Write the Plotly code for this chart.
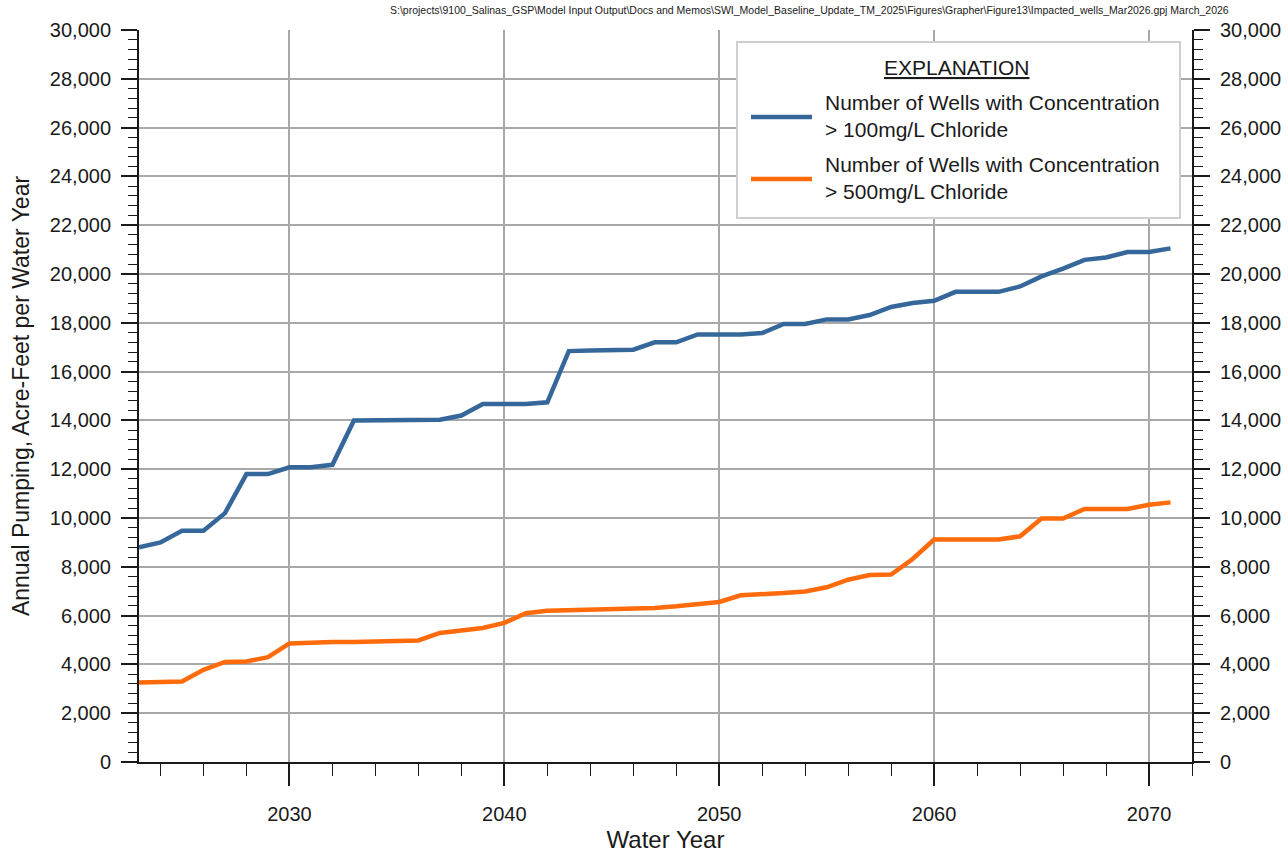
import plotly.graph_objects as go

# Water years simulated
years = [2023, 2024, 2025, 2026, 2027, 2028, 2029, 2030, 2031, 2032,
         2033, 2034, 2035, 2036, 2037, 2038, 2039, 2040, 2041, 2042,
         2043, 2044, 2045, 2046, 2047, 2048, 2049, 2050, 2051, 2052,
         2053, 2054, 2055, 2056, 2057, 2058, 2059, 2060, 2061, 2062,
         2063, 2064, 2065, 2066, 2067, 2068, 2069, 2070, 2071]

# Wells with concentration > 100 mg/L chloride
wells_100 = [8800, 9000, 9480, 9480, 10200, 11800, 11800, 12080, 12080, 12180,
             14000, 14000, 14000, 14000, 14030, 14200, 14670, 14670, 14670, 14740,
             16840, 16860, 16900, 16900, 17200, 17200, 17520, 17520, 17520, 17580,
             17950, 17950, 18140, 18140, 18320, 18650, 18810, 18900, 19270, 19270,
             19270, 19490, 19900, 20220, 20580, 20680, 20900, 20900, 21050]

# Wells with concentration > 500 mg/L chloride
wells_500 = [3260, 3260, 3300, 3780, 4100, 4120, 4300, 4860, 4900, 4920,
             4920, 4950, 4960, 4980, 5290, 5390, 5490, 5700, 6100, 6200,
             6220, 6250, 6250, 6260, 6310, 6380, 6470, 6560, 6830, 6860,
             6930, 6990, 7160, 7470, 7660, 7680, 8320, 9120, 9120, 9120,
             9120, 9250, 9980, 9980, 10370, 10370, 10370, 10540, 10640]

series_names = ["Number of Wells with Concentration<br>> 100mg/L Chloride",
                "Number of Wells with Concentration<br>> 500mg/L Chloride"]
series_colors = ["#35679a", "#ff6a0a"]

y_range = [0, 30000]
x_range = [2023, 2072]

NARROW = "Liberation Sans Narrow, Arial Narrow, Liberation Sans, Arial, sans-serif"
REGULAR = "Liberation Sans, Arial, sans-serif"
INK = "#1a1a1a"
GRID = "#a8a8a8"

fig = go.Figure()
fig.add_trace(go.Scatter(x=years, y=wells_100, mode="lines", name=series_names[0],
                         line=dict(color=series_colors[0], width=4.5), yaxis="y"))
fig.add_trace(go.Scatter(x=years, y=wells_500, mode="lines", name=series_names[1],
                         line=dict(color=series_colors[1], width=4.5), yaxis="y2"))

yaxis_common = dict(
    range=y_range, dtick=2000, tick0=0, tickformat=",d",
    ticks="outside", ticklen=16, tickwidth=1.5, tickcolor=INK,
    showline=True, linecolor=INK, linewidth=2,
    tickfont=dict(family=NARROW, size=20, color=INK),
    ticklabelstandoff=6,
    minor=dict(dtick=400, tick0=0, ticks="outside", ticklen=9,
               tickwidth=1.2, tickcolor=INK, showgrid=False),
    zeroline=False, fixedrange=True, automargin=False,
)

fig.update_layout(
    width=1288, height=853,
    margin=dict(l=139, r=96, t=30, b=91),
    paper_bgcolor="white", plot_bgcolor="white",
    showlegend=False,
    xaxis=dict(
        range=x_range, tick0=2030, dtick=10,
        ticks="outside", ticklen=22, tickwidth=1.5, tickcolor=INK,
        minor=dict(dtick=2, tick0=2030, ticks="outside", ticklen=12,
                   tickwidth=1.2, tickcolor=INK, showgrid=False),
        showline=True, linecolor=INK, linewidth=2,
        showgrid=True, gridcolor=GRID, gridwidth=1.5,
        zeroline=False, automargin=False,
        ticklabelstandoff=11,
        tickfont=dict(family=NARROW, size=20, color=INK),
        title=dict(text="Water Year", font=dict(family=NARROW, size=24, color=INK),
                   standoff=18),
    ),
    yaxis=dict(
        **yaxis_common,
        side="left",
        showgrid=True, gridcolor=GRID, gridwidth=1.5,
        title=dict(text="Annual Pumping, Acre-Feet per Water Year",
                   font=dict(family=NARROW, size=23, color=INK), standoff=14),
    ),
    yaxis2=dict(
        **yaxis_common,
        side="right", overlaying="y", showgrid=False,
    ),
)

# Explanation box
px0, px1, py0, py1 = 139, 1192, 30, 762
def xp(p):
    return (p - px0) / (px1 - px0)
def yp(p):
    return (py1 - p) / (py1 - py0)

fig.add_shape(type="rect", xref="paper", yref="paper",
              x0=xp(737), x1=xp(1180), y0=yp(218), y1=yp(42),
              fillcolor="white", line=dict(color="#cfcfcf", width=2), layer="above")
fig.add_annotation(xref="paper", yref="paper", x=xp(956), y=yp(68),
                   text="<u>EXPLANATION</u>", showarrow=False,
                   font=dict(family=REGULAR, size=21, color=INK),
                   xanchor="center", yanchor="middle")
for name, color, ymid in zip(series_names, series_colors, [117, 179]):
    fig.add_shape(type="line", xref="paper", yref="paper",
                  x0=xp(751), x1=xp(812), y0=yp(ymid), y1=yp(ymid),
                  line=dict(color=color, width=4.5), layer="above")
    fig.add_annotation(xref="paper", yref="paper", x=xp(823), y=yp(ymid - 1),
                       text=name, showarrow=False, align="left",
                       font=dict(family=REGULAR, size=21, color=INK),
                       xanchor="left", yanchor="middle")

# File path stamp
fig.add_annotation(xref="paper", yref="paper", x=xp(1231), y=yp(10),
                   text=r"S:\projects\9100_Salinas_GSP\Model Input Output\Docs and Memos\SWI_Model_Baseline_Update_TM_2025\Figures\Grapher\Figure13\Impacted_wells_Mar2026.gpj March_2026",
                   showarrow=False, xanchor="right", yanchor="middle",
                   font=dict(family=NARROW, size=10.5, color=INK))

fig.write_html("out.html")
